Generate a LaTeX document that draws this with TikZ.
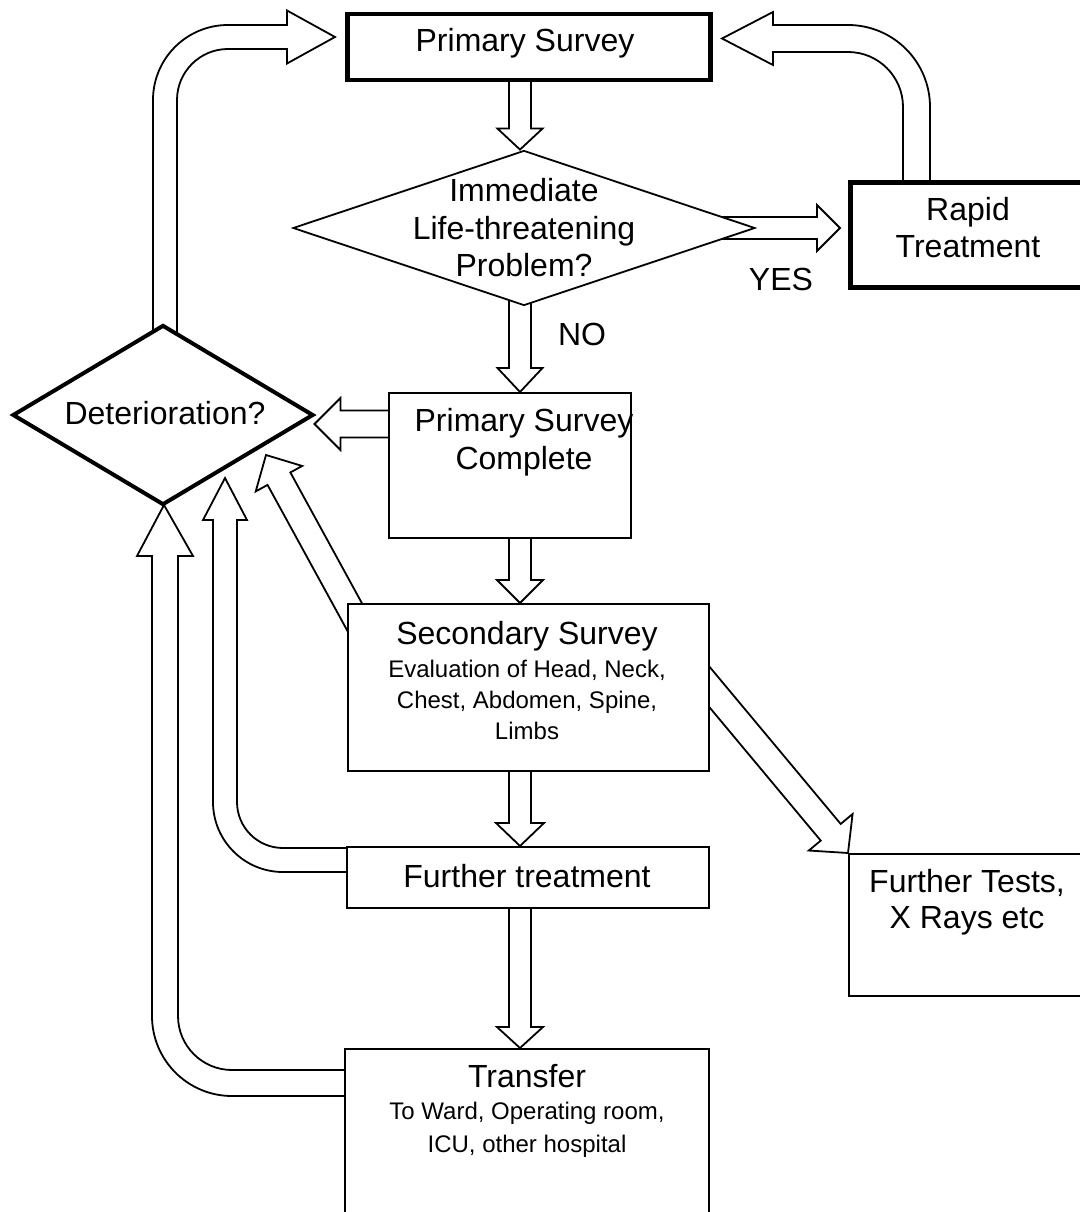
\documentclass[tikz,border=0pt]{standalone}
\usepackage{fontspec}
\setmainfont{Liberation Sans}
\usetikzlibrary{calc,shapes.geometric,backgrounds}

% Hollow straight block arrow: #1 tail, #2 tip, #3 shaft half width,
% #4 head half width, #5 head length
\newcommand\blockarrow[5]{%
  \path (#1) coordinate (ba-tail) (#2) coordinate (ba-tip);
  \path ($(ba-tip)!#5!(ba-tail)$) coordinate (ba-base);
  \draw[hollow] ($(ba-tail)!#3!90:(ba-tip)$) -- ($(ba-base)!#3!90:(ba-tip)$)
    -- ($(ba-base)!#4!90:(ba-tip)$) -- (ba-tip) -- ($(ba-base)!#4!-90:(ba-tip)$)
    -- ($(ba-base)!#3!-90:(ba-tip)$) -- ($(ba-tail)!#3!-90:(ba-tip)$) -- cycle;
}

\begin{document}
\begin{tikzpicture}[x=1pt,y=-1pt,
  thinbox/.style={draw, fill=white, line width=1.8pt, inner sep=0pt, anchor=north west},
  thickbox/.style={thinbox, line width=4.5pt},
  decision/.style={diamond, draw, fill=white, inner sep=0pt, line width=1.8pt},
  hollow/.style={draw, fill=white, line width=1.8pt, line join=miter},
  big/.style={anchor=base, inner sep=0pt, font=\fontsize{32}{38}\selectfont},
  small/.style={anchor=base, inner sep=0pt, font=\fontsize{24}{31}\selectfont}]

\useasboundingbox (0,0) rectangle (1079,1212);
\begin{pgfonlayer}{background}
  \fill[white] (0,0) rectangle (1079,1212);
\end{pgfonlayer}

% boxes and decisions
\node[thickbox, minimum width=363pt, minimum height=66pt] (ps) at (345,12) {};
\node[thickbox, minimum width=240pt, minimum height=105pt] (rt) at (848,180) {};
\node[thinbox, minimum width=242pt, minimum height=145pt] (psc) at (388,392) {};
\node[thinbox, minimum width=361pt, minimum height=167pt] (ss) at (347,603) {};
\node[thinbox, minimum width=362pt, minimum height=61pt] (ftr) at (346,846) {};
\node[thinbox, minimum width=364pt, minimum height=190pt] (tr) at (344,1048) {};
\node[thinbox, minimum width=240pt, minimum height=142pt] (ft) at (848,853) {};
\node[decision, minimum width=462pt, minimum height=155pt] (d1) at (524,228) {};
\node[decision, line width=4pt, minimum width=301pt, minimum height=180pt] (d2) at (163,415) {};

% texts
\node[big] (t-ps) at (525,52) {Primary Survey};
\node[big] (t-d1a) at (524,201) {Immediate};
\node[big] (t-d1b) at (524,239) {Life-threatening};
\node[big] (t-d1c) at (524,276) {Problem?};
\node[big] (t-yes) at (781,290) {YES};
\node[big] (t-rta) at (968,220) {Rapid};
\node[big] (t-rtb) at (968,257) {Treatment};
\node[big] (t-no) at (582,345) {NO};
\node[big] (t-d2) at (165,424) {Deterioration?};
\node[big] (t-psca) at (524,431) {Primary Survey};
\node[big] (t-pscb) at (524,469) {Complete};
\node[big] (t-ss) at (527,644) {Secondary Survey};
\node[small] (t-ssa) at (527,677) {Evaluation of Head, Neck,};
\node[small] (t-ssb) at (527,708) {Chest, Abdomen, Spine,};
\node[small] (t-ssc) at (527,739) {Limbs};
\node[big] (t-ftr) at (527,887) {Further treatment};
\node[big] (t-fta) at (967,892) {Further Tests,};
\node[big] (t-ftb) at (967,928) {X Rays etc};
\node[big] (t-tr) at (527,1087) {Transfer};
\node[small] (t-tra) at (527,1119) {To Ward, Operating room,};
\node[small] (t-trb) at (527,1152) {ICU, other hospital};

% arrow tips and the main column
\coordinate (col) at (520,0);
\coordinate (yestip) at ($(rt.west |- d1.east)+(-8,0)$);
\coordinate (dtip) at ($(d2.east)+(-1,9)$);
\coordinate (dgtip) at (266,455);

\begin{pgfonlayer}{background}
  % main column
  \blockarrow{ps.center -| col}{d1.north -| col}{11pt}{22.5pt}{21pt}
  \blockarrow{d1.center -| col}{psc.north -| col}{11pt}{22.5pt}{24pt}
  \blockarrow{psc.center -| col}{ss.north -| col}{11pt}{23pt}{23pt}
  \blockarrow{ss.center -| col}{ftr.north -| col}{11pt}{24pt}{23pt}
  \blockarrow{ftr.center -| col}{tr.north -| col}{11pt}{23pt}{21pt}
  % side branches
  \blockarrow{d1.center}{yestip}{11pt}{23pt}{23pt}
  \blockarrow{psc.center |- dtip}{dtip}{13.5pt}{26pt}{26pt}
  \blockarrow{$(dgtip)!1.3!(ss.north west)$}{dgtip}{13pt}{26.5pt}{27pt}
  \blockarrow{$(ft.north west)!1.3!(ss.east)$}{ft.north west}{13pt}{28.5pt}{27pt}

  % Deterioration? back to Primary Survey
  \draw[hollow] (153,420) -- (153,100) arc[start angle=180, end angle=270, radius=75]
    -- (287,25) -- (287,10.5) -- (335,37) -- (287,63.5) -- (287,49) -- (228,49)
    arc[start angle=270, end angle=180, radius=51] -- (177,420) -- cycle;
  % Rapid Treatment back to Primary Survey
  \draw[hollow] (930,250) -- (930,107) arc[start angle=0, end angle=-90, radius=82]
    -- (773,25) -- (773,12) -- (722,38.5) -- (773,65) -- (773,52) -- (848,52)
    arc[start angle=-90, end angle=0, radius=55] -- (903,250) -- cycle;
  % Further treatment to Deterioration?
  \draw[hollow] (400,872) -- (283,872) arc[start angle=90, end angle=180, radius=70]
    -- (213,520) -- (203,520) -- (225,478) -- (247,520) -- (237,520) -- (237,802)
    arc[start angle=180, end angle=90, radius=46] -- (400,848) -- cycle;
  % Transfer to Deterioration?
  \draw[hollow] (400,1096) -- (232,1096) arc[start angle=90, end angle=180, radius=80]
    -- (152,556) -- (137,556) -- (164,505) -- (193,556) -- (178,556) -- (178,1016)
    arc[start angle=180, end angle=90, radius=54] -- (400,1070) -- cycle;
\end{pgfonlayer}
\end{tikzpicture}
\end{document}
